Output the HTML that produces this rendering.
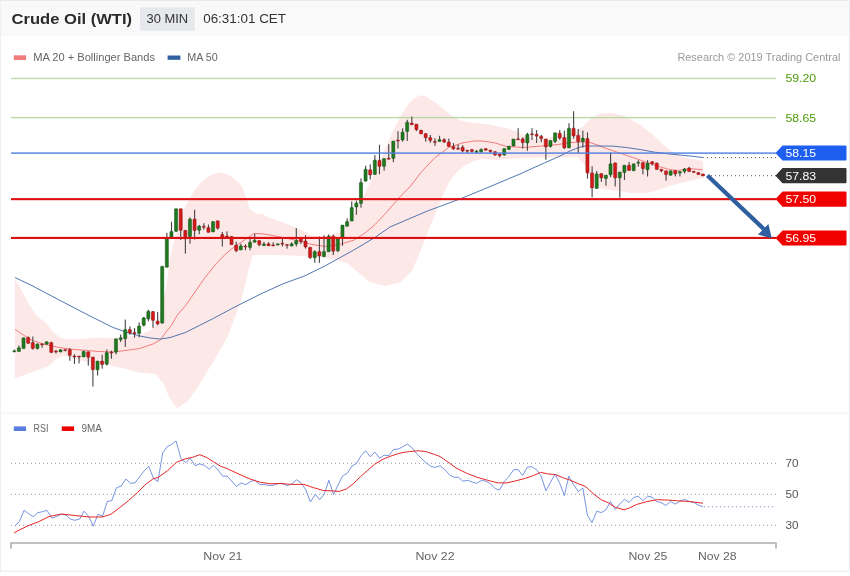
<!DOCTYPE html>
<html><head><meta charset="utf-8"><title>Crude Oil (WTI)</title>
<style>
html,body{margin:0;padding:0;background:#fff;}
body{width:850px;height:576px;overflow:hidden;position:relative;font-family:"Liberation Sans",sans-serif;}
svg{position:absolute;left:0;top:0;display:block;will-change:transform;transform:translateZ(0);}
text{font-family:"Liberation Sans",sans-serif;}
</style></head><body>
<svg width="850" height="576" viewBox="0 0 850 576">
<defs>
<pattern id="tex" width="4" height="4" patternUnits="userSpaceOnUse"><rect width="4" height="4" fill="#f9f9f9"/><rect x="0" y="0" width="1" height="1" fill="#fcfcfc"/><rect x="2" y="2" width="1" height="1" fill="#fbfbfb"/><rect x="1" y="3" width="1" height="1" fill="#f6f6f6"/><rect x="3" y="1" width="1" height="1" fill="#f7f7f7"/><rect x="2" y="0" width="1" height="1" fill="#f7f7f7"/><rect x="0" y="2" width="1" height="1" fill="#fbfbfb"/></pattern>
</defs>
<rect x="0" y="0" width="850" height="576" fill="#ffffff"/>
<!-- header -->
<rect x="0" y="0" width="850" height="36" fill="url(#tex)"/>
<rect x="0" y="0" width="850" height="1" fill="#e9e9e9"/>
<rect x="0" y="570.7" width="850" height="1" fill="#e8ecf0"/>
<rect x="0" y="0" width="1" height="571.5" fill="#eceff3"/>
<rect x="849" y="0" width="1" height="571.5" fill="#eceff3"/>
<rect x="1" y="412.7" width="847" height="1" fill="#f1f1f1"/>

<text x="11.6" y="23.6" font-size="14.8" fill="#2b2b2b" font-weight="bold" textLength="120.5" lengthAdjust="spacingAndGlyphs">Crude Oil (WTI)</text>
<rect x="140" y="7.4" width="54.8" height="23.3" fill="#e6e8eb"/>
<text x="146.5" y="23.0" font-size="12.6" fill="#333" font-weight="normal" textLength="41.7" lengthAdjust="spacingAndGlyphs">30 MIN</text>
<text x="203.2" y="23.0" font-size="12.6" fill="#333" font-weight="normal" textLength="82.8" lengthAdjust="spacingAndGlyphs">06:31:01 CET</text>
<rect x="13.8" y="55.3" width="12.3" height="4.7" fill="#f07c7c"/>
<text x="33.2" y="61" font-size="10.5" fill="#666" font-weight="normal" textLength="121.8" lengthAdjust="spacingAndGlyphs">MA 20 + Bollinger Bands</text>
<rect x="167.6" y="55.5" width="12.8" height="4.3" fill="#2f5f9f"/>
<text x="187.3" y="61" font-size="10.5" fill="#666" font-weight="normal" textLength="30.5" lengthAdjust="spacingAndGlyphs">MA 50</text>
<text x="677.4" y="60.7" font-size="10.5" fill="#999" font-weight="normal" textLength="163.1" lengthAdjust="spacingAndGlyphs">Research © 2019 Trading Central</text>
<polygon points="15.0,279.3 21.1,289.5 29.2,304.4 37.3,316.5 45.4,322.4 53.4,332.6 61.5,338.6 72.3,339.6 85.7,338.6 99.2,337.5 112.6,338.0 126.1,336.7 139.5,335.3 150.3,330.5 158.4,320.5 161.0,311.1 166.4,286.9 169.6,260.0 174.2,239.7 184.0,208.7 194.3,190.5 203.1,180.5 211.5,174.6 219.0,172.2 228.0,174.3 236.5,180.5 242.3,187.6 246.6,198.2 249.6,208.7 256.0,213.8 262.0,214.0 269.1,217.6 283.2,222.5 297.4,228.2 304.4,231.7 311.5,235.5 324.4,236.5 339.6,232.7 351.1,217.4 366.3,190.7 382.5,155.0 392.4,132.0 399.4,118.5 406.5,107.0 412.1,100.0 418.0,96.2 421.5,95.2 426.0,96.5 437.0,103.5 450.0,114.8 461.8,121.0 473.0,122.8 489.5,124.6 506.0,127.9 515.9,131.2 529.0,137.8 538.9,139.5 555.4,136.2 571.9,132.9 583.0,126.5 590.5,119.0 600.0,113.6 612.0,112.8 624.7,116.3 637.9,123.3 651.1,132.9 661.0,142.8 670.9,151.0 684.0,157.6 703.0,160.9 703.0,177.8 684.0,182.3 670.9,185.6 661.0,188.9 647.8,192.9 631.3,192.9 614.8,190.6 601.6,189.0 591.7,182.5 585.1,165.9 578.5,157.5 565.3,157.0 550.0,157.5 535.0,157.5 520.0,158.0 507.3,159.0 496.0,160.0 481.9,158.8 473.4,161.3 463.5,166.2 456.5,172.6 449.4,181.5 442.4,196.6 435.3,213.5 428.2,231.0 421.7,247.9 412.1,270.8 400.7,282.3 385.4,286.1 370.2,282.3 358.7,272.7 347.3,263.2 335.8,259.4 320.5,257.5 304.9,256.0 282.8,255.3 258.0,254.8 252.6,255.6 248.3,270.7 240.8,301.7 227.5,337.1 212.0,363.6 198.7,385.8 187.6,401.3 177.2,408.5 169.1,397.2 163.7,383.8 155.7,374.3 139.5,372.5 126.1,369.0 112.6,365.7 99.2,363.6 85.7,361.7 72.3,358.2 62.8,355.5 56.1,359.5 48.0,366.3 37.3,370.3 26.5,374.3 15.0,378.4" fill="#fde8e8"/>
<rect x="11" y="77.8" width="765" height="1.4" fill="#bcd9a5"/>
<rect x="11" y="116.9" width="765" height="1.4" fill="#bcd9a5"/>
<polyline points="15.0,329.4 23.8,335.3 31.9,340.2 42.7,343.9 58.8,347.4 72.3,349.3 85.7,350.4 99.2,351.5 112.6,352.0 126.1,350.4 139.5,348.5 153.0,344.0 161.0,339.4 166.0,332.0 171.5,325.3 177.2,315.2 185.6,305.5 194.3,293.0 205.0,277.5 216.4,263.5 225.0,254.5 234.1,247.0 245.2,239.5 254.0,233.5 262.0,233.8 270.0,235.0 282.8,237.5 297.0,240.5 311.5,244.4 325.6,246.5 339.7,244.4 353.8,240.2 365.0,233.0 375.0,224.6 385.4,213.6 400.7,196.0 410.7,186.0 420.6,172.8 434.7,157.9 448.8,147.4 463.0,142.8 473.0,141.1 481.0,140.9 489.5,142.0 495.3,143.0 506.6,146.5 523.5,147.5 544.7,145.8 558.8,144.4 570.0,142.6 580.0,142.0 588.4,141.9 596.0,144.5 605.3,148.2 626.5,155.3 640.6,160.2 654.7,165.2 668.8,169.4 677.3,170.5 690.0,168.7 702.5,169.6" fill="none" stroke="#ef6f6f" stroke-width="0.9"/>
<polyline points="15.0,277.5 31.9,285.6 58.8,299.8 85.7,313.8 112.6,327.3 126.1,332.1 139.5,335.9 150.3,338.0 159.7,339.0 166.0,338.3 171.8,337.0 185.6,332.4 199.7,325.3 213.8,318.2 235.0,306.9 260.7,294.0 282.8,283.9 304.4,276.0 325.6,265.6 339.7,257.8 353.8,250.0 375.0,237.4 390.0,227.0 400.0,222.7 428.2,210.7 445.0,204.5 460.7,198.7 484.7,188.8 500.0,182.4 520.0,174.0 532.0,168.5 544.7,162.8 560.0,156.0 570.0,151.0 578.5,147.6 584.1,146.1 598.2,146.0 612.4,146.1 626.5,147.5 640.6,149.6 654.7,152.2 668.8,153.9 690.0,156.0 703.6,157.6" fill="none" stroke="#3c68a8" stroke-width="0.9"/>
<rect x="13.80" y="349.5" width="1.1" height="2.7" fill="#444"/>
<rect x="18.42" y="345.5" width="1.1" height="6.1" fill="#444"/>
<rect x="23.04" y="337.8" width="1.1" height="10.8" fill="#444"/>
<rect x="27.67" y="336.5" width="1.1" height="6.9" fill="#444"/>
<rect x="32.29" y="336.5" width="1.1" height="13.0" fill="#444"/>
<rect x="36.91" y="343.4" width="1.1" height="6.1" fill="#444"/>
<rect x="41.53" y="343.8" width="1.1" height="3.9" fill="#444"/>
<rect x="46.15" y="341.7" width="1.1" height="2.6" fill="#444"/>
<rect x="50.78" y="341.7" width="1.1" height="10.9" fill="#444"/>
<rect x="55.40" y="350.0" width="1.1" height="3.5" fill="#444"/>
<rect x="60.02" y="349.0" width="1.1" height="3.0" fill="#444"/>
<rect x="64.64" y="349.5" width="1.1" height="2.0" fill="#444"/>
<rect x="69.26" y="348.3" width="1.1" height="12.5" fill="#444"/>
<rect x="73.89" y="354.2" width="1.1" height="9.7" fill="#444"/>
<rect x="78.51" y="356.0" width="1.1" height="7.4" fill="#444"/>
<rect x="83.13" y="351.2" width="1.1" height="5.8" fill="#444"/>
<rect x="87.75" y="351.7" width="1.1" height="13.9" fill="#444"/>
<rect x="92.37" y="357.0" width="1.1" height="29.5" fill="#444"/>
<rect x="97.00" y="361.1" width="1.1" height="14.4" fill="#444"/>
<rect x="101.62" y="354.7" width="1.1" height="13.9" fill="#444"/>
<rect x="106.24" y="349.5" width="1.1" height="16.1" fill="#444"/>
<rect x="110.86" y="350.6" width="1.1" height="8.1" fill="#444"/>
<rect x="115.48" y="338.8" width="1.1" height="15.6" fill="#444"/>
<rect x="120.11" y="334.6" width="1.1" height="7.4" fill="#444"/>
<rect x="124.73" y="319.6" width="1.1" height="27.2" fill="#444"/>
<rect x="129.35" y="326.4" width="1.1" height="8.5" fill="#444"/>
<rect x="133.97" y="328.1" width="1.1" height="9.6" fill="#444"/>
<rect x="138.59" y="322.5" width="1.1" height="14.8" fill="#444"/>
<rect x="143.22" y="317.0" width="1.1" height="9.4" fill="#444"/>
<rect x="147.84" y="309.8" width="1.1" height="11.5" fill="#444"/>
<rect x="152.46" y="311.0" width="1.1" height="16.8" fill="#444"/>
<rect x="157.08" y="311.9" width="1.1" height="13.4" fill="#444"/>
<rect x="161.70" y="266.3" width="1.1" height="56.9" fill="#444"/>
<rect x="166.33" y="232.8" width="1.1" height="34.5" fill="#444"/>
<rect x="170.95" y="221.8" width="1.1" height="17.0" fill="#444"/>
<rect x="175.57" y="208.7" width="1.1" height="22.7" fill="#444"/>
<rect x="180.19" y="208.7" width="1.1" height="31.2" fill="#444"/>
<rect x="184.81" y="230.3" width="1.1" height="23.3" fill="#444"/>
<rect x="189.44" y="217.3" width="1.1" height="26.4" fill="#444"/>
<rect x="194.06" y="209.8" width="1.1" height="29.7" fill="#444"/>
<rect x="198.68" y="224.9" width="1.1" height="9.3" fill="#444"/>
<rect x="203.30" y="223.2" width="1.1" height="6.4" fill="#444"/>
<rect x="207.92" y="224.6" width="1.1" height="7.8" fill="#444"/>
<rect x="212.55" y="221.5" width="1.1" height="10.5" fill="#444"/>
<rect x="217.17" y="220.7" width="1.1" height="8.9" fill="#444"/>
<rect x="221.79" y="232.0" width="1.1" height="14.5" fill="#444"/>
<rect x="226.41" y="231.4" width="1.1" height="5.6" fill="#444"/>
<rect x="231.03" y="236.4" width="1.1" height="8.3" fill="#444"/>
<rect x="235.66" y="241.6" width="1.1" height="10.6" fill="#444"/>
<rect x="240.28" y="243.7" width="1.1" height="6.3" fill="#444"/>
<rect x="244.90" y="244.4" width="1.1" height="5.9" fill="#444"/>
<rect x="249.52" y="238.0" width="1.1" height="12.3" fill="#444"/>
<rect x="254.14" y="233.8" width="1.1" height="8.5" fill="#444"/>
<rect x="258.77" y="240.5" width="1.1" height="5.8" fill="#444"/>
<rect x="263.39" y="241.8" width="1.1" height="3.9" fill="#444"/>
<rect x="268.01" y="242.3" width="1.1" height="3.5" fill="#444"/>
<rect x="272.63" y="242.3" width="1.1" height="3.6" fill="#444"/>
<rect x="277.25" y="243.7" width="1.1" height="1.4" fill="#444"/>
<rect x="281.88" y="238.8" width="1.1" height="7.7" fill="#444"/>
<rect x="286.50" y="244.5" width="1.1" height="4.1" fill="#444"/>
<rect x="291.12" y="242.3" width="1.1" height="3.8" fill="#444"/>
<rect x="295.74" y="228.2" width="1.1" height="18.3" fill="#444"/>
<rect x="300.36" y="238.5" width="1.1" height="5.6" fill="#444"/>
<rect x="304.99" y="235.2" width="1.1" height="13.4" fill="#444"/>
<rect x="309.61" y="247.2" width="1.1" height="11.6" fill="#444"/>
<rect x="314.23" y="250.3" width="1.1" height="12.5" fill="#444"/>
<rect x="318.85" y="236.6" width="1.1" height="26.2" fill="#444"/>
<rect x="323.47" y="235.2" width="1.1" height="21.5" fill="#444"/>
<rect x="328.10" y="234.5" width="1.1" height="17.3" fill="#444"/>
<rect x="332.72" y="234.5" width="1.1" height="20.5" fill="#444"/>
<rect x="337.34" y="238.8" width="1.1" height="13.4" fill="#444"/>
<rect x="341.96" y="225.1" width="1.1" height="20.7" fill="#444"/>
<rect x="346.58" y="218.3" width="1.1" height="8.0" fill="#444"/>
<rect x="351.21" y="201.4" width="1.1" height="19.7" fill="#444"/>
<rect x="355.83" y="200.6" width="1.1" height="14.2" fill="#444"/>
<rect x="360.45" y="178.4" width="1.1" height="29.3" fill="#444"/>
<rect x="365.07" y="165.7" width="1.1" height="15.5" fill="#444"/>
<rect x="369.69" y="164.3" width="1.1" height="15.2" fill="#444"/>
<rect x="374.32" y="155.1" width="1.1" height="19.4" fill="#444"/>
<rect x="378.94" y="144.8" width="1.1" height="29.4" fill="#444"/>
<rect x="383.56" y="158.6" width="1.1" height="12.0" fill="#444"/>
<rect x="388.18" y="144.2" width="1.1" height="15.1" fill="#444"/>
<rect x="392.80" y="141.0" width="1.1" height="21.2" fill="#444"/>
<rect x="397.43" y="131.1" width="1.1" height="17.4" fill="#444"/>
<rect x="402.05" y="128.3" width="1.1" height="13.4" fill="#444"/>
<rect x="406.67" y="119.8" width="1.1" height="21.2" fill="#444"/>
<rect x="411.29" y="116.6" width="1.1" height="8.2" fill="#444"/>
<rect x="415.91" y="124.1" width="1.1" height="7.0" fill="#444"/>
<rect x="420.54" y="130.1" width="1.1" height="3.8" fill="#444"/>
<rect x="425.16" y="133.5" width="1.1" height="8.2" fill="#444"/>
<rect x="429.78" y="135.0" width="1.1" height="7.8" fill="#444"/>
<rect x="434.40" y="138.2" width="1.1" height="7.7" fill="#444"/>
<rect x="439.02" y="135.8" width="1.1" height="5.6" fill="#444"/>
<rect x="443.65" y="138.2" width="1.1" height="4.9" fill="#444"/>
<rect x="448.27" y="138.6" width="1.1" height="8.0" fill="#444"/>
<rect x="452.89" y="143.1" width="1.1" height="6.8" fill="#444"/>
<rect x="457.51" y="144.5" width="1.1" height="4.8" fill="#444"/>
<rect x="462.13" y="145.2" width="1.1" height="7.1" fill="#444"/>
<rect x="466.76" y="150.2" width="1.1" height="2.8" fill="#444"/>
<rect x="471.38" y="149.4" width="1.1" height="3.2" fill="#444"/>
<rect x="476.00" y="150.0" width="1.1" height="2.9" fill="#444"/>
<rect x="480.62" y="148.4" width="1.1" height="4.2" fill="#444"/>
<rect x="485.24" y="148.6" width="1.1" height="1.7" fill="#444"/>
<rect x="489.87" y="150.0" width="1.1" height="2.9" fill="#444"/>
<rect x="494.49" y="151.5" width="1.1" height="4.2" fill="#444"/>
<rect x="499.11" y="154.0" width="1.1" height="3.4" fill="#444"/>
<rect x="503.73" y="148.6" width="1.1" height="7.1" fill="#444"/>
<rect x="508.35" y="146.1" width="1.1" height="3.9" fill="#444"/>
<rect x="512.98" y="139.0" width="1.1" height="7.1" fill="#444"/>
<rect x="517.60" y="128.2" width="1.1" height="11.6" fill="#444"/>
<rect x="522.22" y="137.4" width="1.1" height="11.2" fill="#444"/>
<rect x="526.84" y="132.8" width="1.1" height="18.0" fill="#444"/>
<rect x="531.46" y="128.2" width="1.1" height="11.7" fill="#444"/>
<rect x="536.09" y="130.0" width="1.1" height="13.0" fill="#444"/>
<rect x="540.71" y="134.8" width="1.1" height="7.5" fill="#444"/>
<rect x="545.33" y="139.0" width="1.1" height="20.7" fill="#444"/>
<rect x="549.95" y="140.5" width="1.1" height="7.0" fill="#444"/>
<rect x="554.57" y="132.8" width="1.1" height="10.2" fill="#444"/>
<rect x="559.20" y="130.0" width="1.1" height="9.9" fill="#444"/>
<rect x="563.82" y="130.6" width="1.1" height="18.3" fill="#444"/>
<rect x="568.44" y="123.2" width="1.1" height="24.7" fill="#444"/>
<rect x="573.06" y="111.2" width="1.1" height="27.4" fill="#444"/>
<rect x="577.68" y="129.0" width="1.1" height="24.1" fill="#444"/>
<rect x="582.31" y="130.6" width="1.1" height="16.9" fill="#444"/>
<rect x="586.93" y="132.4" width="1.1" height="46.2" fill="#444"/>
<rect x="591.55" y="166.3" width="1.1" height="31.1" fill="#444"/>
<rect x="596.17" y="171.1" width="1.1" height="17.4" fill="#444"/>
<rect x="600.79" y="173.6" width="1.1" height="8.2" fill="#444"/>
<rect x="605.42" y="175.1" width="1.1" height="10.6" fill="#444"/>
<rect x="610.04" y="152.5" width="1.1" height="24.7" fill="#444"/>
<rect x="614.66" y="162.8" width="1.1" height="23.6" fill="#444"/>
<rect x="619.28" y="172.0" width="1.1" height="25.6" fill="#444"/>
<rect x="623.90" y="165.2" width="1.1" height="14.8" fill="#444"/>
<rect x="628.53" y="162.0" width="1.1" height="8.5" fill="#444"/>
<rect x="633.15" y="163.8" width="1.1" height="7.0" fill="#444"/>
<rect x="637.77" y="160.2" width="1.1" height="6.4" fill="#444"/>
<rect x="642.39" y="162.4" width="1.1" height="12.0" fill="#444"/>
<rect x="647.01" y="160.2" width="1.1" height="16.3" fill="#444"/>
<rect x="651.64" y="161.6" width="1.1" height="3.9" fill="#444"/>
<rect x="656.26" y="162.9" width="1.1" height="6.5" fill="#444"/>
<rect x="660.88" y="169.2" width="1.1" height="3.0" fill="#444"/>
<rect x="665.50" y="170.8" width="1.1" height="9.9" fill="#444"/>
<rect x="670.12" y="170.8" width="1.1" height="4.5" fill="#444"/>
<rect x="674.75" y="170.4" width="1.1" height="6.0" fill="#444"/>
<rect x="679.37" y="171.6" width="1.1" height="4.8" fill="#444"/>
<rect x="683.99" y="168.0" width="1.1" height="5.5" fill="#444"/>
<rect x="688.61" y="166.8" width="1.1" height="4.8" fill="#444"/>
<rect x="693.23" y="171.3" width="1.1" height="1.2" fill="#444"/>
<rect x="697.86" y="172.5" width="1.1" height="2.1" fill="#444"/>
<rect x="702.48" y="173.9" width="1.1" height="2.1" fill="#444"/>
<rect x="12.75" y="350.8" width="3.1" height="1.0" rx="0.6" fill="#1f7a1f" stroke="#124c12" stroke-width="0.5"/>
<rect x="17.37" y="347.7" width="3.1" height="3.9" rx="0.6" fill="#1f7a1f" stroke="#124c12" stroke-width="0.5"/>
<rect x="21.99" y="337.8" width="3.1" height="10.8" rx="0.6" fill="#1f7a1f" stroke="#124c12" stroke-width="0.5"/>
<rect x="26.62" y="337.3" width="3.1" height="6.1" rx="0.6" fill="#d61818" stroke="#7c1a1a" stroke-width="0.5"/>
<rect x="31.24" y="342.5" width="3.1" height="6.1" rx="0.6" fill="#d61818" stroke="#7c1a1a" stroke-width="0.5"/>
<rect x="35.86" y="344.0" width="3.1" height="4.6" rx="0.6" fill="#1f7a1f" stroke="#124c12" stroke-width="0.5"/>
<rect x="40.48" y="343.8" width="3.1" height="1.0" rx="0.6" fill="#d61818" stroke="#7c1a1a" stroke-width="0.5"/>
<rect x="45.10" y="341.7" width="3.1" height="2.6" rx="0.6" fill="#1f7a1f" stroke="#124c12" stroke-width="0.5"/>
<rect x="49.73" y="342.5" width="3.1" height="10.1" rx="0.6" fill="#d61818" stroke="#7c1a1a" stroke-width="0.5"/>
<rect x="54.35" y="351.0" width="3.1" height="1.0" rx="0.6" fill="#d61818" stroke="#7c1a1a" stroke-width="0.5"/>
<rect x="58.97" y="349.8" width="3.1" height="2.2" rx="0.6" fill="#1f7a1f" stroke="#124c12" stroke-width="0.5"/>
<rect x="63.59" y="349.5" width="3.1" height="1.0" rx="0.6" fill="#d61818" stroke="#7c1a1a" stroke-width="0.5"/>
<rect x="68.21" y="349.5" width="3.1" height="6.0" rx="0.6" fill="#d61818" stroke="#7c1a1a" stroke-width="0.5"/>
<rect x="72.84" y="356.0" width="3.1" height="1.0" rx="0.6" fill="#d61818" stroke="#7c1a1a" stroke-width="0.5"/>
<rect x="77.46" y="356.0" width="3.1" height="1.0" rx="0.6" fill="#d61818" stroke="#7c1a1a" stroke-width="0.5"/>
<rect x="82.08" y="351.2" width="3.1" height="5.8" rx="0.6" fill="#1f7a1f" stroke="#124c12" stroke-width="0.5"/>
<rect x="86.70" y="351.7" width="3.1" height="5.6" rx="0.6" fill="#d61818" stroke="#7c1a1a" stroke-width="0.5"/>
<rect x="91.32" y="357.0" width="3.1" height="12.8" rx="0.6" fill="#d61818" stroke="#7c1a1a" stroke-width="0.5"/>
<rect x="95.95" y="361.1" width="3.1" height="8.7" rx="0.6" fill="#1f7a1f" stroke="#124c12" stroke-width="0.5"/>
<rect x="100.57" y="361.1" width="3.1" height="3.5" rx="0.6" fill="#d61818" stroke="#7c1a1a" stroke-width="0.5"/>
<rect x="105.19" y="352.6" width="3.1" height="11.6" rx="0.6" fill="#1f7a1f" stroke="#124c12" stroke-width="0.5"/>
<rect x="109.81" y="352.0" width="3.1" height="1.0" rx="0.6" fill="#d61818" stroke="#7c1a1a" stroke-width="0.5"/>
<rect x="114.43" y="338.8" width="3.1" height="13.4" rx="0.6" fill="#1f7a1f" stroke="#124c12" stroke-width="0.5"/>
<rect x="119.06" y="337.7" width="3.1" height="2.0" rx="0.6" fill="#1f7a1f" stroke="#124c12" stroke-width="0.5"/>
<rect x="123.68" y="329.5" width="3.1" height="9.2" rx="0.6" fill="#1f7a1f" stroke="#124c12" stroke-width="0.5"/>
<rect x="128.30" y="329.5" width="3.1" height="3.5" rx="0.6" fill="#d61818" stroke="#7c1a1a" stroke-width="0.5"/>
<rect x="132.92" y="332.4" width="3.1" height="1.4" rx="0.6" fill="#d61818" stroke="#7c1a1a" stroke-width="0.5"/>
<rect x="137.54" y="326.0" width="3.1" height="7.5" rx="0.6" fill="#1f7a1f" stroke="#124c12" stroke-width="0.5"/>
<rect x="142.17" y="317.8" width="3.1" height="7.5" rx="0.6" fill="#1f7a1f" stroke="#124c12" stroke-width="0.5"/>
<rect x="146.79" y="311.2" width="3.1" height="7.7" rx="0.6" fill="#1f7a1f" stroke="#124c12" stroke-width="0.5"/>
<rect x="151.41" y="311.5" width="3.1" height="8.9" rx="0.6" fill="#d61818" stroke="#7c1a1a" stroke-width="0.5"/>
<rect x="156.03" y="321.1" width="3.1" height="2.8" rx="0.6" fill="#d61818" stroke="#7c1a1a" stroke-width="0.5"/>
<rect x="160.65" y="266.3" width="3.1" height="56.9" rx="0.6" fill="#1f7a1f" stroke="#124c12" stroke-width="0.5"/>
<rect x="165.28" y="238.1" width="3.1" height="29.2" rx="0.6" fill="#1f7a1f" stroke="#124c12" stroke-width="0.5"/>
<rect x="169.90" y="231.4" width="3.1" height="5.7" rx="0.6" fill="#1f7a1f" stroke="#124c12" stroke-width="0.5"/>
<rect x="174.52" y="208.7" width="3.1" height="22.7" rx="0.6" fill="#1f7a1f" stroke="#124c12" stroke-width="0.5"/>
<rect x="179.14" y="208.7" width="3.1" height="21.6" rx="0.6" fill="#d61818" stroke="#7c1a1a" stroke-width="0.5"/>
<rect x="183.76" y="230.3" width="3.1" height="8.5" rx="0.6" fill="#d61818" stroke="#7c1a1a" stroke-width="0.5"/>
<rect x="188.39" y="219.0" width="3.1" height="17.6" rx="0.6" fill="#1f7a1f" stroke="#124c12" stroke-width="0.5"/>
<rect x="193.01" y="219.0" width="3.1" height="11.6" rx="0.6" fill="#d61818" stroke="#7c1a1a" stroke-width="0.5"/>
<rect x="197.63" y="226.1" width="3.1" height="4.2" rx="0.6" fill="#1f7a1f" stroke="#124c12" stroke-width="0.5"/>
<rect x="202.25" y="226.3" width="3.1" height="1.0" rx="0.6" fill="#d61818" stroke="#7c1a1a" stroke-width="0.5"/>
<rect x="206.87" y="227.5" width="3.1" height="4.9" rx="0.6" fill="#d61818" stroke="#7c1a1a" stroke-width="0.5"/>
<rect x="211.50" y="221.5" width="3.1" height="10.5" rx="0.6" fill="#1f7a1f" stroke="#124c12" stroke-width="0.5"/>
<rect x="216.12" y="220.7" width="3.1" height="7.5" rx="0.6" fill="#d61818" stroke="#7c1a1a" stroke-width="0.5"/>
<rect x="220.74" y="234.5" width="3.1" height="2.5" rx="0.6" fill="#d61818" stroke="#7c1a1a" stroke-width="0.5"/>
<rect x="225.36" y="236.0" width="3.1" height="1.0" rx="0.6" fill="#d61818" stroke="#7c1a1a" stroke-width="0.5"/>
<rect x="229.98" y="236.4" width="3.1" height="8.3" rx="0.6" fill="#d61818" stroke="#7c1a1a" stroke-width="0.5"/>
<rect x="234.61" y="245.1" width="3.1" height="5.7" rx="0.6" fill="#d61818" stroke="#7c1a1a" stroke-width="0.5"/>
<rect x="239.23" y="245.8" width="3.1" height="4.2" rx="0.6" fill="#1f7a1f" stroke="#124c12" stroke-width="0.5"/>
<rect x="243.85" y="246.0" width="3.1" height="1.0" rx="0.6" fill="#d61818" stroke="#7c1a1a" stroke-width="0.5"/>
<rect x="248.47" y="242.3" width="3.1" height="5.2" rx="0.6" fill="#1f7a1f" stroke="#124c12" stroke-width="0.5"/>
<rect x="253.09" y="240.2" width="3.1" height="2.1" rx="0.6" fill="#1f7a1f" stroke="#124c12" stroke-width="0.5"/>
<rect x="257.72" y="240.5" width="3.1" height="4.3" rx="0.6" fill="#d61818" stroke="#7c1a1a" stroke-width="0.5"/>
<rect x="262.34" y="243.9" width="3.1" height="1.8" rx="0.6" fill="#1f7a1f" stroke="#124c12" stroke-width="0.5"/>
<rect x="266.96" y="243.7" width="3.1" height="2.1" rx="0.6" fill="#d61818" stroke="#7c1a1a" stroke-width="0.5"/>
<rect x="271.58" y="244.9" width="3.1" height="1.0" rx="0.6" fill="#d61818" stroke="#7c1a1a" stroke-width="0.5"/>
<rect x="276.20" y="243.7" width="3.1" height="1.4" rx="0.6" fill="#1f7a1f" stroke="#124c12" stroke-width="0.5"/>
<rect x="280.83" y="243.2" width="3.1" height="1.0" rx="0.6" fill="#d61818" stroke="#7c1a1a" stroke-width="0.5"/>
<rect x="285.45" y="244.5" width="3.1" height="1.0" rx="0.6" fill="#d61818" stroke="#7c1a1a" stroke-width="0.5"/>
<rect x="290.07" y="243.7" width="3.1" height="2.4" rx="0.6" fill="#1f7a1f" stroke="#124c12" stroke-width="0.5"/>
<rect x="294.69" y="240.5" width="3.1" height="3.6" rx="0.6" fill="#1f7a1f" stroke="#124c12" stroke-width="0.5"/>
<rect x="299.31" y="238.5" width="3.1" height="3.1" rx="0.6" fill="#d61818" stroke="#7c1a1a" stroke-width="0.5"/>
<rect x="303.94" y="240.9" width="3.1" height="6.1" rx="0.6" fill="#d61818" stroke="#7c1a1a" stroke-width="0.5"/>
<rect x="308.56" y="247.2" width="3.1" height="10.6" rx="0.6" fill="#d61818" stroke="#7c1a1a" stroke-width="0.5"/>
<rect x="313.18" y="251.5" width="3.1" height="6.3" rx="0.6" fill="#1f7a1f" stroke="#124c12" stroke-width="0.5"/>
<rect x="317.80" y="251.5" width="3.1" height="4.5" rx="0.6" fill="#d61818" stroke="#7c1a1a" stroke-width="0.5"/>
<rect x="322.42" y="251.5" width="3.1" height="5.2" rx="0.6" fill="#1f7a1f" stroke="#124c12" stroke-width="0.5"/>
<rect x="327.05" y="236.2" width="3.1" height="15.6" rx="0.6" fill="#1f7a1f" stroke="#124c12" stroke-width="0.5"/>
<rect x="331.67" y="236.2" width="3.1" height="15.0" rx="0.6" fill="#d61818" stroke="#7c1a1a" stroke-width="0.5"/>
<rect x="336.29" y="238.8" width="3.1" height="12.0" rx="0.6" fill="#1f7a1f" stroke="#124c12" stroke-width="0.5"/>
<rect x="340.91" y="225.1" width="3.1" height="12.0" rx="0.6" fill="#1f7a1f" stroke="#124c12" stroke-width="0.5"/>
<rect x="345.53" y="221.5" width="3.1" height="4.8" rx="0.6" fill="#1f7a1f" stroke="#124c12" stroke-width="0.5"/>
<rect x="350.16" y="207.4" width="3.1" height="13.7" rx="0.6" fill="#1f7a1f" stroke="#124c12" stroke-width="0.5"/>
<rect x="354.78" y="203.0" width="3.1" height="4.0" rx="0.6" fill="#1f7a1f" stroke="#124c12" stroke-width="0.5"/>
<rect x="359.40" y="182.4" width="3.1" height="21.1" rx="0.6" fill="#1f7a1f" stroke="#124c12" stroke-width="0.5"/>
<rect x="364.02" y="169.2" width="3.1" height="12.0" rx="0.6" fill="#1f7a1f" stroke="#124c12" stroke-width="0.5"/>
<rect x="368.64" y="169.7" width="3.1" height="5.2" rx="0.6" fill="#d61818" stroke="#7c1a1a" stroke-width="0.5"/>
<rect x="373.27" y="160.1" width="3.1" height="14.4" rx="0.6" fill="#1f7a1f" stroke="#124c12" stroke-width="0.5"/>
<rect x="377.89" y="160.3" width="3.1" height="6.1" rx="0.6" fill="#d61818" stroke="#7c1a1a" stroke-width="0.5"/>
<rect x="382.51" y="158.6" width="3.1" height="7.8" rx="0.6" fill="#1f7a1f" stroke="#124c12" stroke-width="0.5"/>
<rect x="387.13" y="158.3" width="3.1" height="1.0" rx="0.6" fill="#d61818" stroke="#7c1a1a" stroke-width="0.5"/>
<rect x="391.75" y="141.0" width="3.1" height="17.4" rx="0.6" fill="#1f7a1f" stroke="#124c12" stroke-width="0.5"/>
<rect x="396.38" y="140.1" width="3.1" height="1.0" rx="0.6" fill="#d61818" stroke="#7c1a1a" stroke-width="0.5"/>
<rect x="401.00" y="132.1" width="3.1" height="7.9" rx="0.6" fill="#1f7a1f" stroke="#124c12" stroke-width="0.5"/>
<rect x="405.62" y="122.2" width="3.1" height="9.3" rx="0.6" fill="#1f7a1f" stroke="#124c12" stroke-width="0.5"/>
<rect x="410.24" y="123.1" width="3.1" height="1.7" rx="0.6" fill="#d61818" stroke="#7c1a1a" stroke-width="0.5"/>
<rect x="414.86" y="124.1" width="3.1" height="5.6" rx="0.6" fill="#d61818" stroke="#7c1a1a" stroke-width="0.5"/>
<rect x="419.49" y="130.1" width="3.1" height="3.8" rx="0.6" fill="#d61818" stroke="#7c1a1a" stroke-width="0.5"/>
<rect x="424.11" y="133.5" width="3.1" height="4.3" rx="0.6" fill="#d61818" stroke="#7c1a1a" stroke-width="0.5"/>
<rect x="428.73" y="137.5" width="3.1" height="3.1" rx="0.6" fill="#d61818" stroke="#7c1a1a" stroke-width="0.5"/>
<rect x="433.35" y="141.4" width="3.1" height="1.0" rx="0.6" fill="#d61818" stroke="#7c1a1a" stroke-width="0.5"/>
<rect x="437.97" y="139.6" width="3.1" height="1.8" rx="0.6" fill="#1f7a1f" stroke="#124c12" stroke-width="0.5"/>
<rect x="442.60" y="139.6" width="3.1" height="2.4" rx="0.6" fill="#d61818" stroke="#7c1a1a" stroke-width="0.5"/>
<rect x="447.22" y="142.0" width="3.1" height="4.6" rx="0.6" fill="#d61818" stroke="#7c1a1a" stroke-width="0.5"/>
<rect x="451.84" y="146.6" width="3.1" height="2.2" rx="0.6" fill="#d61818" stroke="#7c1a1a" stroke-width="0.5"/>
<rect x="456.46" y="148.3" width="3.1" height="1.0" rx="0.6" fill="#d61818" stroke="#7c1a1a" stroke-width="0.5"/>
<rect x="461.08" y="147.2" width="3.1" height="3.8" rx="0.6" fill="#d61818" stroke="#7c1a1a" stroke-width="0.5"/>
<rect x="465.71" y="150.2" width="3.1" height="1.0" rx="0.6" fill="#d61818" stroke="#7c1a1a" stroke-width="0.5"/>
<rect x="470.33" y="149.4" width="3.1" height="2.1" rx="0.6" fill="#d61818" stroke="#7c1a1a" stroke-width="0.5"/>
<rect x="474.95" y="151.2" width="3.1" height="1.0" rx="0.6" fill="#1f7a1f" stroke="#124c12" stroke-width="0.5"/>
<rect x="479.57" y="149.4" width="3.1" height="2.4" rx="0.6" fill="#1f7a1f" stroke="#124c12" stroke-width="0.5"/>
<rect x="484.19" y="148.6" width="3.1" height="1.7" rx="0.6" fill="#d61818" stroke="#7c1a1a" stroke-width="0.5"/>
<rect x="488.82" y="150.0" width="3.1" height="1.5" rx="0.6" fill="#d61818" stroke="#7c1a1a" stroke-width="0.5"/>
<rect x="493.44" y="151.5" width="3.1" height="3.5" rx="0.6" fill="#d61818" stroke="#7c1a1a" stroke-width="0.5"/>
<rect x="498.06" y="154.0" width="3.1" height="1.7" rx="0.6" fill="#d61818" stroke="#7c1a1a" stroke-width="0.5"/>
<rect x="502.68" y="148.6" width="3.1" height="6.4" rx="0.6" fill="#1f7a1f" stroke="#124c12" stroke-width="0.5"/>
<rect x="507.30" y="146.1" width="3.1" height="3.3" rx="0.6" fill="#1f7a1f" stroke="#124c12" stroke-width="0.5"/>
<rect x="511.93" y="139.0" width="3.1" height="7.1" rx="0.6" fill="#1f7a1f" stroke="#124c12" stroke-width="0.5"/>
<rect x="516.55" y="138.8" width="3.1" height="1.0" rx="0.6" fill="#d61818" stroke="#7c1a1a" stroke-width="0.5"/>
<rect x="521.17" y="138.8" width="3.1" height="3.9" rx="0.6" fill="#d61818" stroke="#7c1a1a" stroke-width="0.5"/>
<rect x="525.79" y="134.2" width="3.1" height="8.8" rx="0.6" fill="#1f7a1f" stroke="#124c12" stroke-width="0.5"/>
<rect x="530.41" y="133.7" width="3.1" height="1.0" rx="0.6" fill="#d61818" stroke="#7c1a1a" stroke-width="0.5"/>
<rect x="535.04" y="134.2" width="3.1" height="2.0" rx="0.6" fill="#d61818" stroke="#7c1a1a" stroke-width="0.5"/>
<rect x="539.66" y="136.2" width="3.1" height="2.6" rx="0.6" fill="#d61818" stroke="#7c1a1a" stroke-width="0.5"/>
<rect x="544.28" y="139.0" width="3.1" height="8.0" rx="0.6" fill="#d61818" stroke="#7c1a1a" stroke-width="0.5"/>
<rect x="548.90" y="140.5" width="3.1" height="6.0" rx="0.6" fill="#1f7a1f" stroke="#124c12" stroke-width="0.5"/>
<rect x="553.52" y="132.8" width="3.1" height="8.8" rx="0.6" fill="#1f7a1f" stroke="#124c12" stroke-width="0.5"/>
<rect x="558.15" y="133.1" width="3.1" height="5.0" rx="0.6" fill="#d61818" stroke="#7c1a1a" stroke-width="0.5"/>
<rect x="562.77" y="137.4" width="3.1" height="10.5" rx="0.6" fill="#d61818" stroke="#7c1a1a" stroke-width="0.5"/>
<rect x="567.39" y="128.2" width="3.1" height="19.7" rx="0.6" fill="#1f7a1f" stroke="#124c12" stroke-width="0.5"/>
<rect x="572.01" y="128.2" width="3.1" height="7.7" rx="0.6" fill="#d61818" stroke="#7c1a1a" stroke-width="0.5"/>
<rect x="576.63" y="135.2" width="3.1" height="6.6" rx="0.6" fill="#d61818" stroke="#7c1a1a" stroke-width="0.5"/>
<rect x="581.26" y="138.1" width="3.1" height="3.4" rx="0.6" fill="#1f7a1f" stroke="#124c12" stroke-width="0.5"/>
<rect x="585.88" y="138.4" width="3.1" height="34.5" rx="0.6" fill="#d61818" stroke="#7c1a1a" stroke-width="0.5"/>
<rect x="590.50" y="172.9" width="3.1" height="15.1" rx="0.6" fill="#d61818" stroke="#7c1a1a" stroke-width="0.5"/>
<rect x="595.12" y="173.9" width="3.1" height="14.6" rx="0.6" fill="#1f7a1f" stroke="#124c12" stroke-width="0.5"/>
<rect x="599.74" y="173.6" width="3.1" height="4.3" rx="0.6" fill="#d61818" stroke="#7c1a1a" stroke-width="0.5"/>
<rect x="604.37" y="175.1" width="3.1" height="3.5" rx="0.6" fill="#1f7a1f" stroke="#124c12" stroke-width="0.5"/>
<rect x="608.99" y="163.8" width="3.1" height="11.0" rx="0.6" fill="#1f7a1f" stroke="#124c12" stroke-width="0.5"/>
<rect x="613.61" y="162.8" width="3.1" height="15.1" rx="0.6" fill="#d61818" stroke="#7c1a1a" stroke-width="0.5"/>
<rect x="618.23" y="172.0" width="3.1" height="5.9" rx="0.6" fill="#1f7a1f" stroke="#124c12" stroke-width="0.5"/>
<rect x="622.85" y="165.2" width="3.1" height="7.3" rx="0.6" fill="#1f7a1f" stroke="#124c12" stroke-width="0.5"/>
<rect x="627.48" y="165.2" width="3.1" height="5.3" rx="0.6" fill="#d61818" stroke="#7c1a1a" stroke-width="0.5"/>
<rect x="632.10" y="163.8" width="3.1" height="7.0" rx="0.6" fill="#1f7a1f" stroke="#124c12" stroke-width="0.5"/>
<rect x="636.72" y="162.2" width="3.1" height="1.0" rx="0.6" fill="#1f7a1f" stroke="#124c12" stroke-width="0.5"/>
<rect x="641.34" y="162.4" width="3.1" height="6.3" rx="0.6" fill="#d61818" stroke="#7c1a1a" stroke-width="0.5"/>
<rect x="645.96" y="163.1" width="3.1" height="6.6" rx="0.6" fill="#1f7a1f" stroke="#124c12" stroke-width="0.5"/>
<rect x="650.59" y="161.6" width="3.1" height="2.3" rx="0.6" fill="#d61818" stroke="#7c1a1a" stroke-width="0.5"/>
<rect x="655.21" y="162.9" width="3.1" height="6.5" rx="0.6" fill="#d61818" stroke="#7c1a1a" stroke-width="0.5"/>
<rect x="659.83" y="169.2" width="3.1" height="1.7" rx="0.6" fill="#d61818" stroke="#7c1a1a" stroke-width="0.5"/>
<rect x="664.45" y="170.8" width="3.1" height="3.9" rx="0.6" fill="#d61818" stroke="#7c1a1a" stroke-width="0.5"/>
<rect x="669.07" y="170.8" width="3.1" height="4.5" rx="0.6" fill="#1f7a1f" stroke="#124c12" stroke-width="0.5"/>
<rect x="673.70" y="170.4" width="3.1" height="3.5" rx="0.6" fill="#d61818" stroke="#7c1a1a" stroke-width="0.5"/>
<rect x="678.32" y="171.6" width="3.1" height="1.5" rx="0.6" fill="#1f7a1f" stroke="#124c12" stroke-width="0.5"/>
<rect x="682.94" y="169.0" width="3.1" height="2.4" rx="0.6" fill="#1f7a1f" stroke="#124c12" stroke-width="0.5"/>
<rect x="687.56" y="168.1" width="3.1" height="3.5" rx="0.6" fill="#d61818" stroke="#7c1a1a" stroke-width="0.5"/>
<rect x="692.18" y="171.3" width="3.1" height="1.2" rx="0.6" fill="#d61818" stroke="#7c1a1a" stroke-width="0.5"/>
<rect x="696.81" y="172.5" width="3.1" height="2.1" rx="0.6" fill="#d61818" stroke="#7c1a1a" stroke-width="0.5"/>
<rect x="701.43" y="173.9" width="3.1" height="2.1" rx="0.6" fill="#d61818" stroke="#7c1a1a" stroke-width="0.5"/>
<rect x="11" y="152.4" width="765" height="1.4" fill="#4f80e0"/>
<rect x="11" y="198.1" width="765" height="2.1" fill="#dc1010"/>
<rect x="11" y="236.9" width="765" height="2.1" fill="#dc1010"/>
<line x1="707" y1="157.6" x2="776" y2="157.6" stroke="#555" stroke-width="1" stroke-dasharray="1,3"/>
<line x1="711" y1="175.7" x2="776" y2="175.7" stroke="#555" stroke-width="1" stroke-dasharray="1,3"/>
<line x1="707.4" y1="175.5" x2="764.5" y2="229.7" stroke="#2f5f9f" stroke-width="4.2"/>
<polygon points="771.8,238.2 768.4,224 758,234.6" fill="#2f5f9f"/>
<path d="M775.5,153 L782.5,145.4 H845.5 Q846.5,145.4 846.5,146.4 V159.6 Q846.5,160.6 845.5,160.6 H782.5 Z" fill="#1f5fef"/>
<text x="785.4" y="156.9" font-size="11.1" fill="#ffffff" font-weight="normal" textLength="30.7" lengthAdjust="spacingAndGlyphs">58.15</text>
<path d="M775.5,175.7 L782.5,168.1 H845.5 Q846.5,168.1 846.5,169.1 V182.29999999999998 Q846.5,183.29999999999998 845.5,183.29999999999998 H782.5 Z" fill="#333333"/>
<text x="785.4" y="179.6" font-size="11.1" fill="#ffffff" font-weight="normal" textLength="30.7" lengthAdjust="spacingAndGlyphs">57.83</text>
<path d="M775.5,199.1 L782.5,191.5 H845.5 Q846.5,191.5 846.5,192.5 V205.7 Q846.5,206.7 845.5,206.7 H782.5 Z" fill="#f00000"/>
<text x="785.4" y="203.0" font-size="11.1" fill="#ffffff" font-weight="normal" textLength="30.7" lengthAdjust="spacingAndGlyphs">57.50</text>
<path d="M775.5,238 L782.5,230.4 H845.5 Q846.5,230.4 846.5,231.4 V244.6 Q846.5,245.6 845.5,245.6 H782.5 Z" fill="#f00000"/>
<text x="785.4" y="241.9" font-size="11.1" fill="#ffffff" font-weight="normal" textLength="30.7" lengthAdjust="spacingAndGlyphs">56.95</text>
<text x="785.4" y="82" font-size="11.3" fill="#4d9a06" font-weight="normal" textLength="30.7" lengthAdjust="spacingAndGlyphs">59.20</text>
<text x="785.4" y="121.6" font-size="11.3" fill="#4d9a06" font-weight="normal" textLength="30.7" lengthAdjust="spacingAndGlyphs">58.65</text>
<rect x="13.8" y="426.4" width="12.3" height="4.6" fill="#5a7fe0"/>
<text x="33.5" y="431.7" font-size="10.5" fill="#666" font-weight="normal" textLength="14.9" lengthAdjust="spacingAndGlyphs">RSI</text>
<rect x="61.8" y="426.4" width="12.3" height="4.6" fill="#ee0000"/>
<text x="81.6" y="431.7" font-size="10.5" fill="#666" font-weight="normal" textLength="20.3" lengthAdjust="spacingAndGlyphs">9MA</text>
<line x1="11" y1="463.3" x2="776" y2="463.3" stroke="#9a9a9a" stroke-width="1" stroke-dasharray="1,3"/>
<line x1="11" y1="494.3" x2="776" y2="494.3" stroke="#9a9a9a" stroke-width="1" stroke-dasharray="1,3"/>
<line x1="11" y1="525.3" x2="776" y2="525.3" stroke="#9a9a9a" stroke-width="1" stroke-dasharray="1,3"/>
<polyline points="14.7,526.2 19.5,521.4 24.1,510.3 28.8,513.8 33.2,516.8 38.0,512.6 42.6,511.7 47.0,510.3 51.8,518.2 56.5,516.5 61.1,514.3 65.9,515.0 70.3,519.1 75.0,520.3 79.6,519.1 84.0,511.2 88.8,516.5 93.2,526.2 98.0,514.3 102.6,516.1 107.3,501.5 111.8,500.6 116.5,487.7 121.1,486.1 125.9,479.0 130.6,483.3 135.0,482.9 139.6,476.8 144.4,470.6 148.8,466.5 153.5,478.5 157.9,481.5 162.7,452.9 167.1,446.8 171.5,444.5 176.1,440.9 180.9,458.6 185.6,462.6 190.2,458.2 195.0,465.6 199.8,463.9 204.4,465.3 209.1,469.2 213.5,465.3 217.9,469.7 222.7,476.2 227.3,476.2 232.1,481.5 236.5,486.5 241.2,482.9 245.8,484.7 250.6,481.5 255.0,480.3 259.8,484.7 264.4,484.4 269.1,485.6 273.5,485.1 278.3,483.5 282.7,483.8 287.3,485.6 292.1,483.8 296.6,479.8 301.2,482.9 305.9,490.0 310.4,502.0 315.3,494.4 319.7,499.7 324.1,494.4 328.9,480.3 333.5,494.4 338.2,484.7 342.6,475.9 347.4,473.2 351.8,466.2 356.4,463.5 361.2,455.6 365.6,450.8 370.4,456.8 374.9,452.1 379.7,458.2 384.1,455.2 388.9,455.6 393.5,449.4 398.2,449.1 402.6,446.8 407.4,444.1 411.8,447.6 416.8,453.8 421.2,458.2 425.9,462.6 430.5,466.2 435.3,467.4 439.9,465.8 444.9,469.7 449.7,475.0 454.1,477.3 458.5,477.3 462.9,481.2 467.7,480.3 472.3,482.1 476.7,483.3 481.5,480.3 485.9,481.2 490.6,483.8 495.2,488.6 499.6,490.0 504.4,481.2 508.8,476.8 513.6,469.7 518.2,469.7 522.6,475.5 527.4,467.1 531.8,466.7 536.5,469.7 541.1,475.9 545.9,490.9 550.3,482.6 555.1,474.1 559.6,482.9 564.4,495.6 568.8,476.2 573.6,484.7 578.2,491.4 582.9,488.2 587.4,515.2 592.0,522.6 596.8,511.2 601.2,512.6 605.9,509.8 610.5,501.5 615.3,509.4 619.7,504.1 624.5,499.2 629.1,502.4 633.8,497.4 638.2,496.2 643.0,500.6 647.6,496.2 652.0,497.1 656.8,501.5 661.2,502.7 665.9,505.5 670.5,501.5 675.3,504.1 679.7,501.5 684.5,499.2 689.1,501.5 693.8,502.4 698.2,505.0 703.0,506.8" fill="none" stroke="#6080dd" stroke-width="0.85" stroke-linejoin="round"/>
<polyline points="14.0,533.0 17.4,531.0 27.9,525.8 38.5,521.8 49.1,516.5 61.5,514.0 75.6,515.6 89.7,517.0 102.0,517.0 110.9,514.3 119.7,507.6 128.5,500.6 137.4,492.6 146.2,483.8 153.6,478.5 157.9,477.6 167.6,470.6 176.5,462.3 185.3,458.8 192.4,457.4 199.8,454.7 206.5,457.4 213.5,461.8 220.6,466.2 227.6,468.8 238.2,473.8 248.8,478.5 259.4,482.1 270.0,483.8 280.6,483.5 291.2,484.4 303.8,484.4 312.6,487.4 323.2,490.5 332.1,490.9 339.1,491.4 346.2,489.1 353.2,483.8 360.3,476.8 367.4,470.6 374.4,464.4 383.2,459.1 392.1,455.6 400.9,452.9 409.7,451.5 418.5,450.8 425.6,451.5 434.4,454.4 440.0,456.5 447.1,461.4 455.9,467.9 466.5,473.2 477.1,477.3 487.6,480.3 498.2,482.9 507.1,482.9 515.9,480.8 524.7,478.5 533.5,475.5 540.6,472.4 547.6,473.8 555.6,474.6 563.5,478.0 570.6,480.3 577.6,483.5 584.7,486.1 587.1,487.9 594.1,494.4 601.2,499.7 608.2,502.7 615.3,507.3 624.1,509.8 629.4,508.0 636.5,504.5 647.1,501.5 657.6,499.7 668.2,500.1 678.8,500.9 689.4,501.5 703.0,503.2" fill="none" stroke="#e52525" stroke-width="1.0" stroke-linejoin="round"/>
<line x1="704.2" y1="506.8" x2="776" y2="506.8" stroke="#6878c4" stroke-width="1" stroke-dasharray="1,3"/>
<text x="785.5" y="467.2" font-size="11.3" fill="#555" font-weight="normal" textLength="13" lengthAdjust="spacingAndGlyphs">70</text>
<text x="785.5" y="498.3" font-size="11.3" fill="#555" font-weight="normal" textLength="13" lengthAdjust="spacingAndGlyphs">50</text>
<text x="785.5" y="529.3" font-size="11.3" fill="#555" font-weight="normal" textLength="13" lengthAdjust="spacingAndGlyphs">30</text>
<path d="M11,548.6 V543 H776 V548.6" fill="none" stroke="#adadad" stroke-width="1.6"/>
<text x="203.3" y="560" font-size="11.6" fill="#666" font-weight="normal" textLength="39.2" lengthAdjust="spacingAndGlyphs">Nov 21</text>
<text x="415.4" y="560" font-size="11.6" fill="#666" font-weight="normal" textLength="39.2" lengthAdjust="spacingAndGlyphs">Nov 22</text>
<text x="628.5" y="560" font-size="11.6" fill="#666" font-weight="normal" textLength="38.9" lengthAdjust="spacingAndGlyphs">Nov 25</text>
<text x="697.9" y="560" font-size="11.6" fill="#666" font-weight="normal" textLength="38.7" lengthAdjust="spacingAndGlyphs">Nov 28</text>
</svg></body></html>
